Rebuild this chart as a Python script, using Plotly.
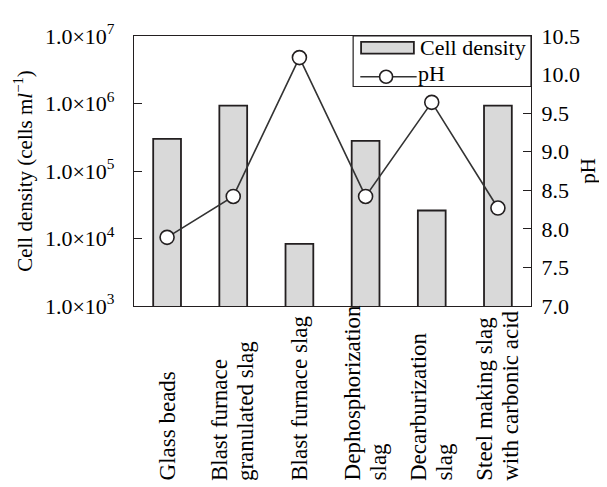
import plotly.graph_objects as go

categories = ["Glass beads", "Blast furnace<br>granulated slag", "Blast furnace slag",
              "Dephosphorization<br>slag", "Decarburization<br>slag",
              "Steel making slag<br>with carbonic acid"]
cell_density = [3.0e5, 9.3e5, 8.3e3, 2.8e5, 2.6e4, 9.3e5]
ph_values = [7.89, 8.42, 10.22, 8.42, 9.64, 8.27]
left_tickvals = [1e3, 1e4, 1e5, 1e6, 1e7]
left_ticktext = ["1.0×10<sup>3</sup>", "1.0×10<sup>4</sup>", "1.0×10<sup>5</sup>",
                 "1.0×10<sup>6</sup>", "1.0×10<sup>7</sup>"]

FONT = "Liberation Serif, Times New Roman, serif"
FS = 22

fig = go.Figure()
fig.add_trace(go.Bar(x=categories, y=cell_density, width=0.42,
                     marker=dict(color="#d9d9d9", line=dict(color="#231f20", width=1.8)),
                     name="Cell density", showlegend=False))
fig.add_trace(go.Scatter(x=categories, y=ph_values, yaxis="y2", mode="lines+markers",
                         line=dict(color="#333333", width=1.6),
                         marker=dict(size=14, color="white", line=dict(color="#231f20", width=1.6)),
                         name="pH", showlegend=False))

# category labels (bottom-aligned, rotated), one annotation per text line
LINE_GAP = 26
for c in categories:
    lines = c.split("<br>")
    n = len(lines)
    for i, ln in enumerate(lines):
        fig.add_annotation(x=c, xref="x", y=-0.655, yref="paper", text=ln, textangle=-90,
                           showarrow=False, xanchor="center", yanchor="bottom",
                           xshift=(i - (n - 1) / 2) * LINE_GAP,
                           font=dict(family=FONT, size=23, color="black"))

# custom legend
lx0, lx1, ly0, ly1 = 0.552, 1.0, 0.813, 1.0
fig.add_shape(type="rect", xref="paper", yref="paper", x0=lx0, x1=lx1, y0=ly0, y1=ly1,
              line=dict(color="#231f20", width=1.2), fillcolor="white", layer="above")
fig.add_shape(type="rect", xref="paper", yref="paper", x0=0.572, x1=0.705, y0=0.935, y1=0.978,
              line=dict(color="#231f20", width=1.8), fillcolor="#d9d9d9", layer="above")
fig.add_shape(type="line", xref="paper", yref="paper", x0=0.570, x1=0.712, y0=0.849, y1=0.849,
              line=dict(color="#333333", width=1.6), layer="above")
fig.add_shape(type="circle", xref="paper", yref="paper", xsizemode="pixel", ysizemode="pixel",
              xanchor=0.635, yanchor=0.849, x0=-6.5, x1=6.5, y0=-6.5, y1=6.5,
              line=dict(color="#231f20", width=1.6), fillcolor="white", layer="above")
fig.add_annotation(x=0.716, y=0.957, xref="paper", yref="paper", text="Cell density",
                   showarrow=False, xanchor="left", yanchor="middle",
                   font=dict(family=FONT, size=FS, color="black"))
fig.add_annotation(x=0.711, y=0.862, xref="paper", yref="paper", text="pH",
                   showarrow=False, xanchor="left", yanchor="middle",
                   font=dict(family=FONT, size=FS, color="black"))

fig.update_layout(
    width=607, height=487,
    margin=dict(l=126, r=84, t=20, b=189),
    paper_bgcolor="white", plot_bgcolor="white",
    font=dict(family=FONT, size=FS, color="black"),
    showlegend=False,
    xaxis=dict(showticklabels=False, ticks="", showgrid=False, zeroline=False,
               showline=True, linecolor="#231f20", linewidth=1.2, mirror=True),
    yaxis=dict(type="log", range=[3, 7], tickvals=left_tickvals, ticktext=left_ticktext,
               ticks="inside", ticklen=8, tickcolor="#231f20", showgrid=False, zeroline=False,
               showline=True, linecolor="#231f20", linewidth=1.2, ticklabelstandoff=14,
               title=dict(text="Cell density (cells m<i>l</i><sup>−1</sup>)", standoff=6,
                          font=dict(family=FONT, size=21))),
    yaxis2=dict(overlaying="y", side="right", range=[7, 10.5], dtick=0.5, tickformat=".1f",
                ticks="inside", ticklen=8, tickcolor="#231f20", showgrid=False, zeroline=False,
                showline=True, linecolor="#231f20", linewidth=1.2, ticklabelstandoff=5,
                title=dict(text="pH", standoff=1, font=dict(family=FONT, size=21))),
)

fig.write_html("out.html")
